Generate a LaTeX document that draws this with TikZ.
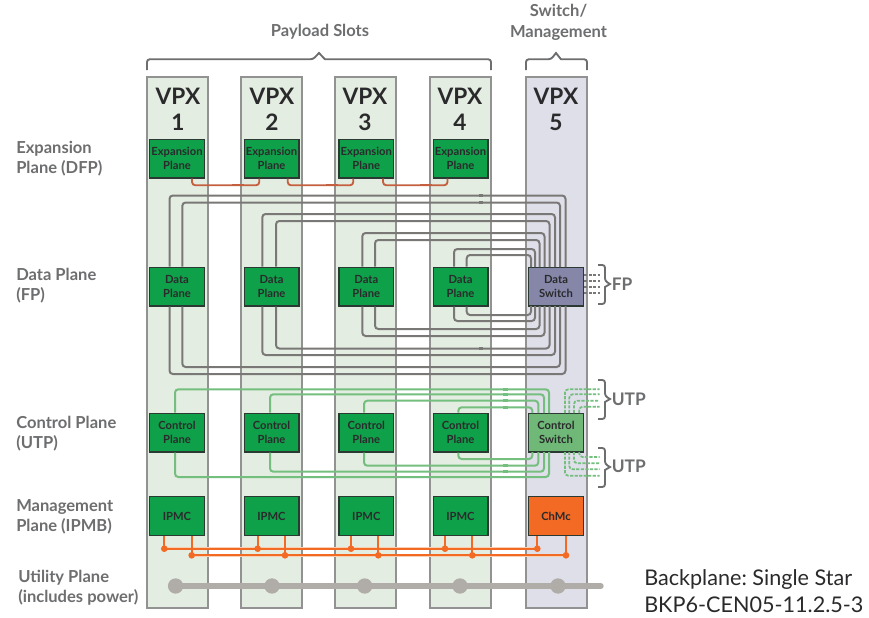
\documentclass[tikz,border=0pt]{standalone}
\usepackage{fontspec}
\setmainfont{Lato}
\frenchspacing
\definecolor{slotg}{HTML}{E4EDE1}
\definecolor{slotb}{HTML}{DFDFEA}
\definecolor{slotedge}{HTML}{929292}
\definecolor{boxg}{HTML}{0FA04A}
\definecolor{boxedge}{HTML}{2A3A33}
\definecolor{swblue}{HTML}{8586A8}
\definecolor{swgreen}{HTML}{6FB877}
\definecolor{chmc}{HTML}{F26A23}
\definecolor{halo}{HTML}{F9CFB2}
\definecolor{txt}{HTML}{6D6E70}
\definecolor{dark}{HTML}{2A2A2C}
\definecolor{gline}{HTML}{7A7876}
\definecolor{cline}{HTML}{74BE7E}
\definecolor{rust}{HTML}{C4603F}
\definecolor{util}{HTML}{B0ACA7}
\tikzset{
 x=0.75pt,y=-0.75pt,
 slot/.style={draw=slotedge,line width=1.1pt,fill=#1},
 pbox/.style={draw=boxedge,line width=1pt,fill=#1,minimum width=41pt,minimum height=29pt,inner sep=0pt,
   text=dark,align=center,font=\fontsize{8.4}{10.2}\selectfont\bfseries},
 head/.style={text=dark,align=center,font=\fontsize{17}{19.5}\selectfont\bfseries,inner sep=0pt},
 lab/.style={text=txt,align=left,anchor=west,inner sep=0pt,font=\fontsize{12.4}{15}\selectfont\bfseries},
 dataline/.style={draw=gline,line width=1.5pt,rounded corners=2.5pt},
 ctrlline/.style={draw=cline,line width=1.5pt,rounded corners=2.5pt},
 ctrldash/.style={draw=cline,line width=1.3pt,rounded corners=2.5pt,dash pattern=on 2.4pt off 1pt},
 datadash/.style={draw=gline,line width=1.3pt,dash pattern=on 2.4pt off 1pt},
 exline/.style={draw=rust,line width=1.4pt,rounded corners=2.5pt},
 bus/.style={draw=chmc,line width=1.3pt},
 halobus/.style={draw=halo,line width=2.4pt},
 brk/.style={draw=txt,line width=1.4pt,rounded corners=2pt},
 bdot/.style={circle,fill=chmc,inner sep=0pt,minimum size=5pt},
 udot/.style={circle,fill=util,inner sep=0pt,minimum size=11.5pt},
 tickd/.style={draw=gline,line width=2pt},
 tickc/.style={draw=cline,line width=2pt},
 tickr/.style={draw=rust,line width=1.7pt},
}
\begin{document}
\begin{tikzpicture}
\useasboundingbox (0,0) rectangle (869,618);
\fill[white] (0,0) rectangle (869,618);
% slots
\draw[slot=slotg] (147,77) rectangle (208,608);
\draw[slot=slotg] (241,77) rectangle (302,608);
\draw[slot=slotg] (335,77) rectangle (396,608);
\draw[slot=slotg] (430,77) rectangle (491,608);
\draw[slot=slotb] (526,77) rectangle (587,608);
% heads
\foreach \x/\n in {178/1,272/2,365/3,460/4,556/5}
  \node[head] at (\x,109) {VPX\\\n};
% boxes
\foreach \i/\x in {1/177,2/271.5,3/366.3,4/460.5}{
  \node[pbox=boxg] (e\i) at (\x,158.5) {Expansion\\Plane};
  \node[pbox=boxg] (d\i) at (\x,286.5) {Data\\Plane};
  \node[pbox=boxg] (c\i) at (\x,432.5) {Control\\Plane};
  \node[pbox=boxg] (m\i) at (\x,516) {IPMC};
}
\node[pbox=swblue] (d5) at (556,286.5) {Data\\Switch};
\node[pbox=swgreen] (c5) at (556,432.5) {Control\\Switch};
\node[pbox=chmc] (m5) at (556,516) {ChMc};
% data lines
\foreach \b/\x/\yt/\yb/\xr in {d1/169.5/195.5/374/565.5, d1/182.3/202.5/367/560,
   d2/262.3/214/355/555, d2/276/221/348.5/549.5,
   d3/362.3/233/336/544.5, d3/375/240/329/539.5,
   d4/454/249/321/535, d4/466.7/255/315/531}{
  \draw[dataline] (\b.north -| \x,0) |- (\xr,\yt) -- (\xr,267);
  \draw[dataline] (\b.south -| \x,0) |- (\xr,\yb) -- (\xr,306);
}
\foreach \y in {195.5,202.5,214,221,233,240,329,336,348.5,355,367,374}
  \draw[tickd] (479,\y) -- (483,\y);
\foreach \x/\y in {511/249,519/255,519/315,511/321}
  \draw[tickd] (\x-2,\y) -- (\x+2,\y);
% control lines
\foreach \b/\x/\yt/\yb/\xr in {c1/175/389.3/477/549, c2/270/394.3/471.7/544,
   c3/364/400.7/465.7/538.3, c4/458.3/407.3/459/532.3}{
  \draw[ctrlline] (\b.north -| \x,0) |- (\xr,\yt) -- (\xr,413);
  \draw[ctrlline] (\b.south -| \x,0) |- (\xr,\yb) -- (\xr,452);
}
\foreach \y in {389.3,394.3,400.7,407.3,459,465.7,471.7,477}
  \draw[tickc] (503,\y) -- (508,\y);
% control dashed
\foreach \x/\y in {565/389.3,569.3/394.3,574/400.7,579.3/406.7}
  \draw[ctrldash] (\x,413) |- (599.5,\y);
\foreach \x/\y in {579.3/457,574/463.3,569.3/469.3,565/475.7}
  \draw[ctrldash] (\x,452) |- (599.5,\y);
% data dashed
\foreach \y in {275,280.7,286.7,292.7}
  \draw[datadash] (584,\y) -- (600,\y);
% expansion links
\draw[exline] (e1.south -| 192,0) |- (259.3,185.3) -- (e2.south -| 259.3,0);
\draw[exline] (e2.south -| 287.7,0) |- (353.3,185.3) -- (e3.south -| 353.3,0);
\draw[exline] (e3.south -| 383,0) |- (447.5,185.3) -- (e4.south -| 447.5,0);
\foreach \x in {232,326,420}
  \draw[tickr] (\x,185.3) -- (\x+12,185.3);
% management buses
\draw[halobus] (164.3,548.7) -- (537.3,548.7);
\draw[halobus] (191.7,555.3) -- (566,555.3);
\draw[bus] (164.3,548.7) -- (537.3,548.7);
\draw[bus] (191.7,555.3) -- (566,555.3);
\foreach \b/\xa/\xb in {m1/164.3/191.7,m2/257.7/285,m3/351/378.3,m4/445/472.3,m5/537.3/566}{
  \draw[bus] (\b.south -| \xa,0) -- (\xa,548.7);
  \draw[bus] (\b.south -| \xb,0) -- (\xb,555.3);
  \node[bdot] at (\xa,548.7) {};
  \node[bdot] at (\xb,555.3) {};
}
% utility
\draw[util,line width=4pt,line cap=round] (175.6,586) -- (601,586);
\foreach \x in {175.6,272,364.7,460,558}
  \node[udot] at (\x,586) {};
% brackets
\draw[brk] (147,70) |- (313,59.3) [sharp corners] -- (319,53) -- (325,59.3) [rounded corners=2pt] -| (491,70);
\draw[brk] (526,70) |- (551,59.3) [sharp corners] -- (556,53) -- (561,59.3) [rounded corners=2pt] -| (587,70);
\draw[brk] (598,265) -| (605,281) [sharp corners] -- (610,284) -- (605,287) [rounded corners=2pt] |- (598,304);
\draw[brk] (598,380) -| (605,396) [sharp corners] -- (610,399) -- (605,402) [rounded corners=2pt] |- (598,419);
\draw[brk] (598,448) -| (605,464) [sharp corners] -- (610,467) -- (605,470) [rounded corners=2pt] |- (598,487);
% labels
\node[lab,anchor=center,align=center] at (320,31.5) {Payload Slots};
\node[lab,anchor=center,align=center,font=\fontsize{12.4}{15.7}\selectfont\bfseries] at (558.5,22) {Switch/\\Management};
\node[lab] at (16,159) {Expansion\\Plane (DFP)};
\node[lab] at (16,286) {Data Plane\\(FP)};
\node[lab] at (16,434) {Control Plane\\(UTP)};
\node[lab] at (16,517) {Management\\Plane (IPMB)};
\node[lab] at (18,588) {Utility Plane\\(includes power)};
\node[lab,font=\fontsize{13}{15}\selectfont\bfseries] at (611.5,284) {FP};
\node[lab,font=\fontsize{13}{15}\selectfont\bfseries] at (611.5,399) {UTP};
\node[lab,font=\fontsize{13}{15}\selectfont\bfseries] at (611.5,466) {UTP};
\node[anchor=west,align=left,inner sep=0pt,text=dark,font=\fontsize{16.2}{20.2}\selectfont] at (644,591.5) {Backplane: Single Star\\BKP6-CEN05-11.2.5-3};
\end{tikzpicture}
\end{document}
